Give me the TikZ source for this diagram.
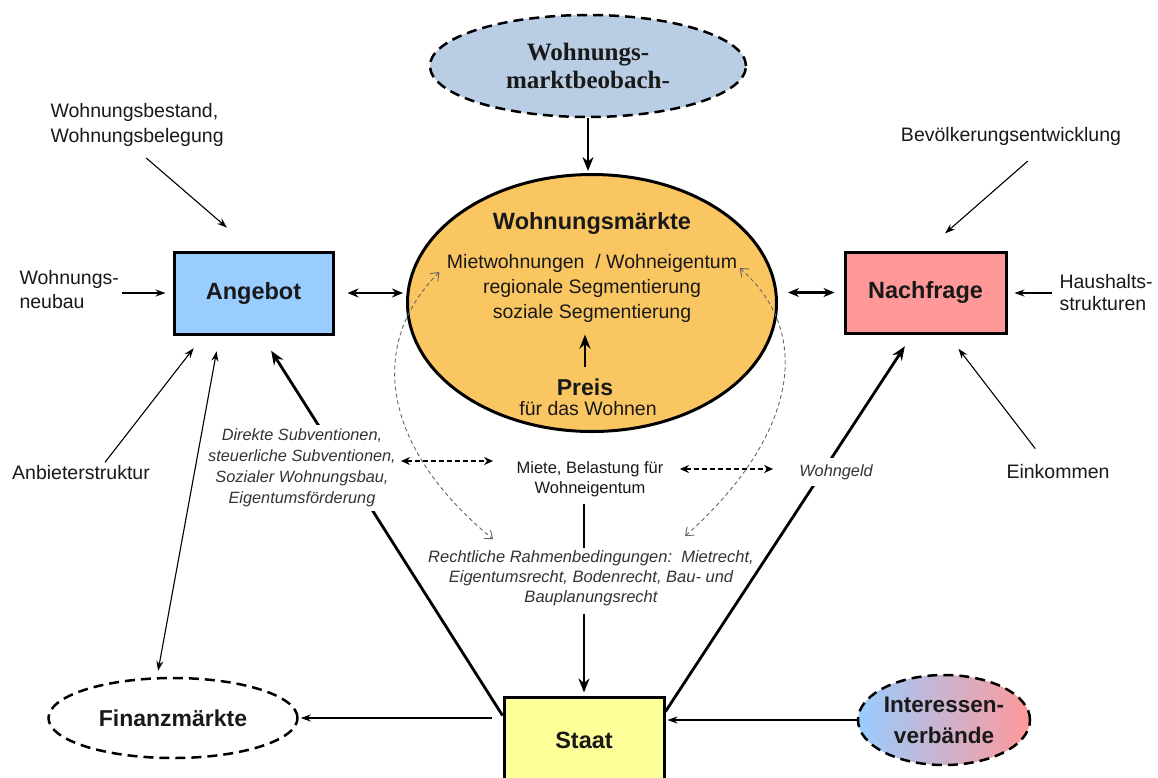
\documentclass[tikz,border=0pt]{standalone}
\usepackage{fontspec}
\setmainfont{Liberation Sans}
\newfontfamily\kopfschrift{Liberation Serif}
\usepackage{tikz}
\usetikzlibrary{shapes.geometric}
\usetikzlibrary{arrows.meta}
\usetikzlibrary{calc}
\pgfdeclarelayer{hinten}
\pgfsetlayers{hinten,main}

\definecolor{beobblau}{RGB}{185,205,228}
\definecolor{marktgelb}{RGB}{250,198,98}
\definecolor{angebotblau}{RGB}{153,204,255}
\definecolor{nachfragerot}{RGB}{255,153,153}
\definecolor{staatgelb}{RGB}{255,255,153}
\definecolor{schrift}{RGB}{25,25,25}

\begin{document}
\begin{tikzpicture}[x=1pt, y=-1pt,
  font=\fontsize{19.5}{25}\selectfont, text=schrift,
  kasten/.style={draw, rectangle, line width=3pt, font=\bfseries\fontsize{23.5}{28}\selectfont},
  wolke/.style={draw, ellipse, line width=2.5pt, dash pattern=on 10pt off 6pt, inner sep=0pt,
    align=center, font=\bfseries\fontsize{23}{31}\selectfont},
  notiz/.style={align=center},
  kursiv/.style={align=center, fill=white, inner sep=2pt, text=black!80,
    font=\itshape\fontsize{16.3}{21}\selectfont},
  pfeil/.style={-{Stealth[length=10pt,width=7pt]}, line width=1.1pt},
  dpfeil/.style={{Stealth[length=10pt,width=7pt]}-{Stealth[length=10pt,width=7pt]}, line width=1.1pt},
  dickpfeil/.style={-{Stealth[length=14pt,width=11pt]}, line width=2.8pt},
  doppelpfeil/.style={{Stealth[length=11pt,width=9pt]}-{Stealth[length=11pt,width=9pt]}, line width=2.5pt},
  strichpfeil/.style={{Stealth[length=9pt,width=8pt]}-{Stealth[length=9pt,width=8pt]},
    line width=1.3pt, dash pattern=on 5pt off 3pt},
  bogenpfeil/.style={{Straight Barb[length=7pt,width=11pt]}-{Straight Barb[length=7pt,width=11pt]},
    line width=0.9pt, black!60, dash pattern=on 4pt off 3pt},
]
  % Rahmen
  \useasboundingbox (0,0) rectangle (1158,777);
  \begin{pgfonlayer}{hinten}
    \fill[white] (0,0) rectangle (1158,777);
  \end{pgfonlayer}

  % Wohnungsmarkt
  \node[draw, ellipse, fill=marktgelb, line width=3pt, minimum width=369pt, minimum height=257pt] (markt) at (592,303) {};
  \node[font=\bfseries\fontsize{23.5}{28}\selectfont] (markttitel) at (592,223) {Wohnungsmärkte};
  \node[notiz] (segment) at (592,288) {Mietwohnungen\ \ / Wohneigentum\\regionale Segmentierung\\soziale Segmentierung};
  \node[font=\bfseries\fontsize{23}{28}\selectfont] (preis) at (585,387) {Preis};
  \node (wohnen) at (588,409) {für das Wohnen};

  % Beobachtung
  \node[wolke, fill=beobblau, minimum width=316pt, minimum height=102pt,
    font=\kopfschrift\bfseries\fontsize{25}{28}\selectfont] (beob) at (588,66) {Wohnungs-\\marktbeobach-};

  % Angebot, Nachfrage, Staat
  \node[kasten, fill=angebotblau, minimum width=159pt, minimum height=82pt] (angebot) at (253.5,293) {Angebot};
  \node[kasten, fill=nachfragerot, minimum width=161pt, minimum height=81pt] (nachfrage) at (925.5,292.5) {Nachfrage};
  \node[kasten, fill=staatgelb, minimum width=160pt, minimum height=86pt] (staat) at (584,740) {Staat};

  % Finanzmaerkte und Verbaende
  \node[wolke, fill=white, minimum width=249pt, minimum height=80pt] (finanz) at (173,718) {Finanzmärkte};
  \node[wolke, left color=angebotblau, right color=nachfragerot, minimum width=172pt, minimum height=90pt,
    font=\bfseries\fontsize{22.5}{31}\selectfont] (interessen) at (944,720) {Interessen-\\verbände};

  % Einflussfaktoren
  \node[notiz, align=left, anchor=west] (bestand) at (47,125) {Wohnungsbestand,\\Wohnungsbelegung};
  \node[notiz, align=left, anchor=west, font=\fontsize{19.5}{24}\selectfont] (neubau) at (16,290) {Wohnungs-\\neubau};
  \node[notiz] (anbieter) at (81,473) {Anbieterstruktur};
  \node[notiz] (bevoelkerung) at (1011,136) {Bevölkerungsentwicklung};
  \node[notiz, align=left, anchor=west, font=\fontsize{19.5}{22}\selectfont] (haushalt) at (1056,293) {Haushalts-\\strukturen};
  \node[notiz] (einkommen) at (1058,472) {Einkommen};

  % Instrumente des Staates
  \node[kursiv, inner ysep=4pt] (subv) at (302,468) {Direkte Subventionen,\\steuerliche Subventionen,\\Sozialer Wohnungsbau,\\Eigentumsförderung};
  \node[notiz, font=\fontsize{16.5}{20}\selectfont] (miete) at (590,479) {Miete, Belastung für\\Wohneigentum};
  \node[kursiv, fill=none, font=\itshape\fontsize{16.5}{20}\selectfont] (recht) at (591,578) {Rechtliche Rahmenbedingungen:\ \ Mietrecht,\\Eigentumsrecht, Bodenrecht, Bau- und\\Bauplanungsrecht};
  \node[kursiv, inner ysep=6pt] (wohngeld) at (836,472) {Wohngeld};

  % Linien vom Staat (unter den Beschriftungen)
  \begin{pgfonlayer}{hinten}
    \draw[dickpfeil, shorten >=18pt] ($(staat.north west)+(0,20)$) -- ($(angebot.south)+(8,0)$);
    \draw[dickpfeil, shorten >=14pt] ($(staat.north east)+(0,16)$) -- ($(nachfrage.south)+(-13,0)$);
  \end{pgfonlayer}
  \draw[line width=2.8pt, shorten <=4pt] (miete.south -| staat.north) -- (recht.north -| staat.north);
  \draw[dickpfeil, shorten <=6pt, shorten >=3pt] (recht.south -| staat.north) -- (staat.north);

  % Pfeile zum Angebot
  \draw[pfeil, shorten <=12pt, shorten >=35pt] (bestand.south) -- (angebot.north);
  \draw[pfeil, shorten >=7pt] (neubau.east |- angebot.west) -- (angebot.west);
  \draw[pfeil, shorten >=16pt] ($(anbieter.north)+(24,0)$) -- ($(angebot.south west)+(31,0)$);
  \draw[dpfeil, shorten <=6pt, shorten >=16pt] ($(finanz.north)+(-16,0)$) -- ($(angebot.south west)+(47,0)$);

  % Pfeile zur Nachfrage
  \draw[pfeil, shorten <=19pt, shorten >=26pt] ($(bevoelkerung.south)+(31,0)$) -- (nachfrage.north);
  \draw[pfeil, shorten <=4pt, shorten >=7pt] (haushalt.west) -- (haushalt.west -| nachfrage.east);
  \draw[pfeil, shorten <=16pt, shorten >=18pt] ($(einkommen.north)+(-13,0)$) -- ($(nachfrage.south)+(22,0)$);

  % Markt
  \draw[doppelpfeil, shorten <=13pt, shorten >=3pt] (angebot.east) -- (angebot.east -| markt.west);
  \draw[doppelpfeil, shorten <=10pt, shorten >=9pt] (markt.east |- nachfrage.west) -- (nachfrage.west);
  \draw[dickpfeil, shorten >=2pt] (beob.south) -- (beob.south |- markt.north);
  \draw[dickpfeil, shorten <=8pt, shorten >=9pt] (preis.north) -- (preis.north |- segment.south);

  % Staat unten
  \draw[pfeil, shorten >=2pt] (interessen.west) -- (interessen.west -| staat.east);
  \draw[pfeil, shorten <=11pt, shorten >=2pt] (finanz.east -| staat.west) -- (finanz.east);

  % gestrichelte Wechselwirkungen
  \draw[strichpfeil, shorten <=3pt, shorten >=20pt] ([yshift=7pt]subv.east) -- ([yshift=7pt]subv.east -| miete.west);
  \draw[strichpfeil, shorten <=13pt, shorten >=24pt] ([yshift=10pt]miete.east) -- ([yshift=10pt]miete.east -| wohngeld.west);
  \draw[bogenpfeil] ($(segment.west)+(-4,-16)$) .. controls +(-72,72) and +(-112,-92) .. ($(recht.north west)+(67,-9)$);
  \draw[bogenpfeil] ($(segment.east)+(-1,-20)$) .. controls +(80,70) and +(104,-92) .. ($(recht.north east)+(-71,-12)$);
\end{tikzpicture}
\end{document}
